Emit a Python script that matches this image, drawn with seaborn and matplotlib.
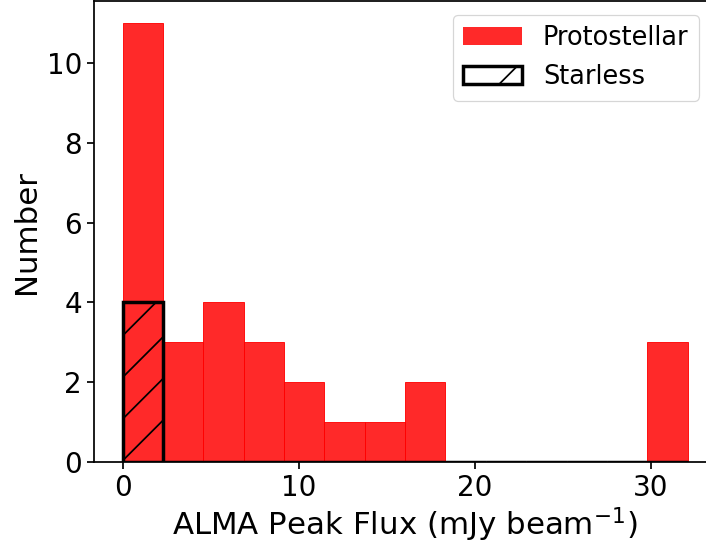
import numpy as np
import pandas as pd
import matplotlib
matplotlib.use("Agg")
import matplotlib.pyplot as plt
from matplotlib.patches import Patch
import seaborn as sns

# ---- data ----
bin_edges = list(np.linspace(0.0, 32.1, 15))    # 14 equal-width bins
protostellar_counts = [11, 3, 4, 3, 2, 1, 1, 2, 0, 0, 0, 0, 0, 3]
starless_counts = [4, 0, 0, 0, 0, 0, 0, 0, 0, 0, 0, 0, 0, 0]
x_ticks = [0, 10, 20, 30]
y_ticks = [0, 2, 4, 6, 8, 10]
xlabel = r"ALMA Peak Flux (mJy beam$^{-1}$)"
ylabel = "Number"
labels = ["Protostellar", "Starless"]

bin_centers = [0.5 * (a + b) for a, b in zip(bin_edges[:-1], bin_edges[1:])]
df_p = pd.DataFrame({"flux": bin_centers, "n": protostellar_counts})
df_s = pd.DataFrame({"flux": bin_centers, "n": starless_counts})

DPI = 250
plt.rcParams["hatch.linewidth"] = 0.5
plt.rcParams["font.family"] = ["DejaVu Sans"]

fig = plt.figure(figsize=(706 / DPI, 544 / DPI), dpi=DPI)
ax = fig.add_axes([0.1338, 0.1513, 0.880, 0.846])

sns.histplot(data=df_p, x="flux", weights="n", bins=bin_edges,
             color="red", alpha=0.84, edgecolor="red", linewidth=0.25,
             ax=ax)
sns.histplot(data=df_s, x="flux", weights="n", bins=bin_edges,
             fill=False, color="black", edgecolor="black", linewidth=1.0,
             hatch="//", ax=ax)

ax.set_xlim(-1.605, 33.7)
ax.set_ylim(0, 11.55)
ax.set_xticks(x_ticks)
ax.set_yticks(y_ticks)
ax.set_xlabel(xlabel, fontsize=8.9, labelpad=1.0)
ax.set_ylabel(ylabel, fontsize=8.9, labelpad=1.5)
ax.tick_params(labelsize=8.0, length=2, width=0.5, pad=1.6)
for s in ax.spines.values():
    s.set_linewidth(0.5)

handles = [Patch(facecolor="red", alpha=0.84, edgecolor="none"),
           Patch(facecolor="white", edgecolor="black", linewidth=1.0, hatch="/")]
leg = ax.legend(handles, labels, loc="upper right", fontsize=7.4,
                bbox_to_anchor=(0.985, 0.987), borderaxespad=0.3, framealpha=0.8,
                edgecolor="0.8", handlelength=2.3)
leg.get_frame().set_linewidth(0.35)

fig.savefig("out.png", dpi=DPI)
